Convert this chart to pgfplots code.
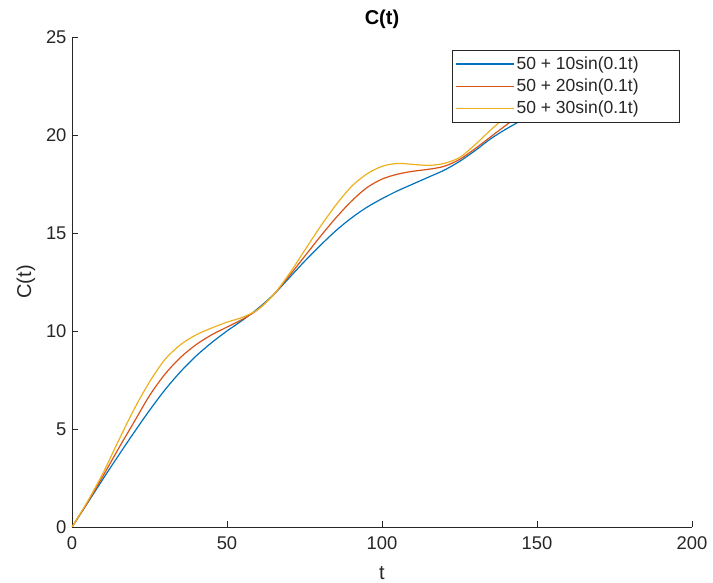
\documentclass[border=0pt]{standalone}
\usepackage{pgfplots}
\pgfplotsset{compat=1.18}
\usepackage{fontspec}
\setmainfont{Liberation Sans}
\definecolor{axcol}{rgb}{0.15,0.15,0.15}
\definecolor{mblue}{rgb}{0,0.447,0.741}
\definecolor{mred}{rgb}{0.85,0.325,0.098}
\definecolor{myellow}{rgb}{0.929,0.694,0.125}
\begin{document}
\begin{tikzpicture}
\begin{axis}[
  scale only axis, width=620bp, height=490bp,
  at={(0,0)}, anchor=origin,
  xmin=0, xmax=200, ymin=0, ymax=25,
  enlargelimits=false,
  axis x line*=bottom, axis y line*=left,
  axis line style={-, color=axcol, line width=0.9bp},
  xtick={0,50,100,150,200}, ytick={0,5,10,15,20,25},
  tick align=inside, major tick length=6bp,
  tick style={color=axcol, line width=0.9bp},
  minor tick num=0,
  /pgf/number format/assume math mode=true,
  ticklabel style={font=\fontsize{18.4bp}{22bp}\selectfont, text=axcol},
  xticklabel style={anchor=north, yshift=-6bp},
  yticklabel style={anchor=east, xshift=-2bp},
  xlabel={t}, ylabel={C(t)},
  label style={font=\fontsize{20bp}{24bp}\selectfont, text=axcol},
  xlabel style={at={(axis description cs:0.5,0)}, anchor=base, yshift=-52bp},
  ylabel style={at={(axis description cs:0,0.5)}, anchor=center, rotate=0, yshift=46bp},
  title={\textbf{C(t)}},
  title style={font=\fontsize{20bp}{24bp}\selectfont, at={(axis description cs:0.5,1)}, anchor=base, yshift=7bp},
  legend style={at={(rel axis cs:1,1)}, anchor=north east, xshift=-12bp, yshift=-13bp,
    draw=axcol, line width=0.9bp, fill=white, inner xsep=3bp, inner ysep=4.5bp, row sep=4bp,
    font=\fontsize{17.5bp}{20bp}\selectfont, text=axcol,
    nodes={inner sep=2bp}},
  legend cell align=left,
  legend image code/.code={\draw[#1, line width=1.3bp] (0bp,0bp) -- (58bp,0bp);},
  every axis plot/.append style={line width=1.2bp, smooth},
]
\addplot[mblue] coordinates {
(0,0) (5,1.22) (10,2.45) (15,3.65) (20,4.82) (25,5.95) (30,7.0) (35,7.92) (40,8.72) (45,9.4) (50,10.0) (55,10.55) (60,11.15) (65,11.85) (70,12.7) (75,13.55) (80,14.35) (85,15.1) (90,15.75) (95,16.3) (100,16.75) (105,17.15) (110,17.5) (115,17.85) (120,18.2) (125,18.65) (130,19.2) (135,19.8) (140,20.3) (145,20.75) (150,21.2)
};
\addlegendentry{\makebox[158bp][l]{50 + 10sin(0.1t)}}
\addplot[mred] coordinates {
(0,0) (5,1.25) (10,2.6) (15,4.0) (20,5.35) (25,6.7) (30,7.8) (35,8.65) (40,9.3) (45,9.8) (50,10.2) (55,10.6) (60,11.1) (65,11.85) (70,12.8) (75,13.8) (80,14.8) (85,15.75) (90,16.6) (95,17.3) (100,17.75) (105,18.0) (110,18.15) (115,18.25) (120,18.4) (125,18.75) (130,19.3) (135,19.9) (140,20.5) (145,21.1) (150,21.65)
};
\addlegendentry{\makebox[158bp][l]{50 + 20sin(0.1t)}}
\addplot[myellow] coordinates {
(0,0) (5,1.3) (10,2.75) (15,4.4) (20,6.0) (25,7.4) (30,8.55) (35,9.3) (40,9.8) (45,10.15) (50,10.45) (55,10.7) (60,11.1) (65,11.85) (70,12.9) (75,14.1) (80,15.3) (85,16.4) (90,17.35) (95,18.0) (100,18.4) (105,18.55) (110,18.5) (115,18.45) (120,18.55) (125,18.85) (130,19.5) (135,20.25) (140,20.95) (145,21.65) (150,22.3)
};
\addlegendentry{\makebox[158bp][l]{50 + 30sin(0.1t)}}
\end{axis}
\pgfresetboundingbox
\path (-72bp,-56bp) rectangle (641bp,527bp);
\end{tikzpicture}
\end{document}
